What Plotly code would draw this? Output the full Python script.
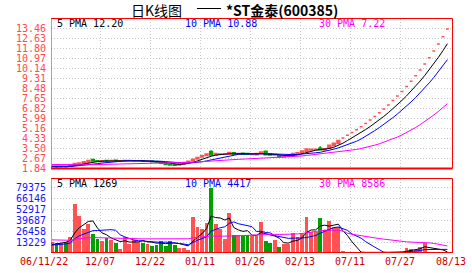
import plotly.graph_objects as go
import pandas as pd

W, H = 472, 273

# ---------------- data ----------------
date_labels = ["06/11/22", "12/07", "12/22", "01/11", "01/26", "02/13", "07/11", "07/27", "08/13"]

# closes / volumes of the 29 sessions before the window (seed the moving averages)
prior_close = [2.28, 2.30, 2.27, 2.25, 2.26, 2.29, 2.31, 2.28, 2.24, 2.22,
               2.25, 2.27, 2.24, 2.21, 2.23, 2.26, 2.24, 2.20, 2.18, 2.16,
               2.08, 2.05, 2.03, 2.04, 2.02, 2.01, 2.03, 2.02, 2.00]
prior_volume = [21000, 18500, 19500, 17800, 20500, 19200, 18000, 21500, 17500, 19000,
                18800, 20200, 17600, 19400, 18300, 20800, 18900, 17700, 19600, 18700,
                9500, 8200, 9800, 8700, 9100, 8400, 9600, 8900, 9300]

open_ = [1.98, 2.01, 1.97, 2.01, 2.05, 2.12, 2.20, 2.27, 2.36, 2.58,
         2.48, 2.42, 2.50, 2.46, 2.53, 2.47, 2.46, 2.48, 2.47, 2.46,
         2.49, 2.44, 2.46, 2.42, 2.35, 2.28, 2.19, 2.15, 2.13, 2.23,
         2.36, 2.46, 2.62, 2.80, 2.92, 3.25, 2.96, 3.02, 3.02, 3.04,
         3.14, 3.04, 3.10, 3.08, 3.00, 2.98, 3.17, 3.28, 3.05, 2.97,
         2.92, 2.80, 2.86, 2.94, 3.06, 3.14, 3.28, 3.38, 3.40, 3.52,
         3.38, 3.52, 3.72, 3.92,
         4.37, 4.59, 4.82, 5.06, 5.31, 5.58, 5.86, 6.15, 6.46, 6.78,
         7.12, 7.48, 7.85, 8.24, 8.65, 9.08, 9.53, 10.01, 10.51, 11.04,
         11.59, 12.17, 12.78, 13.42]
high = [2.03, 2.02, 2.02, 2.03, 2.14, 2.26, 2.32, 2.41, 2.52, 2.60,
        2.50, 2.50, 2.53, 2.52, 2.55, 2.50, 2.52, 2.51, 2.50, 2.49,
        2.50, 2.48, 2.47, 2.43, 2.36, 2.30, 2.22, 2.18, 2.24, 2.36,
        2.46, 2.62, 2.80, 2.98, 3.10, 3.35, 3.12, 3.10, 3.08, 3.22,
        3.18, 3.12, 3.12, 3.10, 3.08, 3.10, 3.22, 3.30, 3.08, 3.02,
        2.95, 2.88, 2.95, 3.10, 3.17, 3.32, 3.50, 3.46, 3.48, 3.68,
        3.50, 3.78, 3.95, 4.16,
        4.37, 4.59, 4.82, 5.06, 5.31, 5.58, 5.86, 6.15, 6.46, 6.78,
        7.12, 7.48, 7.85, 8.24, 8.65, 9.08, 9.53, 10.01, 10.51, 11.04,
        11.59, 12.17, 12.78, 13.42]
low = [1.90, 1.88, 1.84, 1.90, 2.03, 2.10, 2.18, 2.25, 2.34, 2.44,
       2.40, 2.40, 2.44, 2.44, 2.44, 2.45, 2.44, 2.46, 2.45, 2.44,
       2.43, 2.42, 2.38, 2.33, 2.26, 2.15, 2.10, 2.10, 2.12, 2.22,
       2.35, 2.44, 2.60, 2.78, 2.88, 2.92, 2.94, 2.98, 2.98, 3.00,
       3.02, 3.00, 3.00, 3.00, 2.98, 2.96, 3.02, 2.95, 2.92, 2.94,
       2.78, 2.78, 2.84, 2.92, 3.04, 3.12, 3.25, 3.34, 3.36, 3.36,
       3.36, 3.50, 3.70, 3.90,
       4.37, 4.59, 4.82, 5.06, 5.31, 5.58, 5.86, 6.15, 6.46, 6.78,
       7.12, 7.48, 7.85, 8.24, 8.65, 9.08, 9.53, 10.01, 10.51, 11.04,
       11.59, 12.17, 12.78, 13.42]
close = [2.01, 1.97, 2.00, 1.98, 2.13, 2.25, 2.30, 2.40, 2.50, 2.46,
         2.42, 2.48, 2.46, 2.50, 2.46, 2.49, 2.51, 2.50, 2.49, 2.48,
         2.45, 2.46, 2.41, 2.35, 2.28, 2.18, 2.13, 2.12, 2.22, 2.34,
         2.44, 2.60, 2.76, 2.90, 3.05, 2.96, 3.08, 3.05, 3.04, 3.16,
         3.05, 3.08, 3.02, 3.02, 3.04, 3.08, 3.20, 2.98, 2.96, 3.00,
         2.80, 2.86, 2.93, 3.08, 3.15, 3.30, 3.46, 3.43, 3.44, 3.40,
         3.47, 3.76, 3.94, 4.16,
         4.37, 4.59, 4.82, 5.06, 5.31, 5.58, 5.86, 6.15, 6.46, 6.78,
         7.12, 7.48, 7.85, 8.24, 8.65, 9.08, 9.53, 10.01, 10.51, 11.04,
         11.59, 12.17, 12.78, 13.42]
volume = [14500, 13300, 13300, 14500, 20600, 60000, 45000, 30300, 35600, 23500,
          17400, 15400, 18800, 16400, 13300, 5300, 20200, 11400, 16400, 14500,
          13300, 12100, 9300, 10500, 15400, 9300, 15400, 10500, 6500, 6500,
          4100, 44500, 32400, 29600, 37600, 79375, 36000, 30000, 17400, 49000,
          21900, 21900, 21000, 22000, 21000, 21000, 38800, 14600, 13000, 15800,
          7700, 11700, 11700, 25000, 19800, 23900, 44900, 25900, 26000, 43000,
          29000, 39000, 32000, 32000, 2500, 700, 800, 600, 700, 900,
          700, 600, 800, 700, 600, 700, 800, 1320, 7000, 6000,
          4000, 7500, 13325, 2200, 800, 1200, 1545, 600]

price_ticks = [1.84, 2.67, 3.50, 4.33, 5.16, 5.99, 6.82, 7.65, 8.48, 9.31,
               10.14, 10.97, 11.80, 12.63, 13.46]
volume_ticks = [13229, 26458, 39687, 52917, 66146, 79375]

title_left = "日K线图"
title_right = "*ST金泰(600385)"

# ---------------- derived ----------------
days = list(range(len(close)))
n_prior = len(prior_close)
cs = pd.Series(prior_close + close)
vs = pd.Series(prior_volume + volume)
pma = {n: cs.rolling(n).mean().iloc[n_prior:].tolist() for n in (5, 10, 30)}
vma = {n: vs.rolling(n).mean().iloc[n_prior:].tolist() for n in (5, 10, 30)}

RED = "#ff5252"
GREEN = "#00a000"
BORDER = "#ff0000"
GRID = "#c8c8c8"
MA_COL = {5: "#000000", 10: "#0000ff", 30: "#ff00ff"}
MONO = "DejaVu Sans Mono"

# pixel geometry
PX_L, PX_R = 51, 452
P_TOP, P_BOT = 18.5, 168.5
V_TOP, V_BOT = 178.5, 253.0
X0, X1 = -0.22, 88.0
price_step_px = 10.0
p_lo = price_ticks[0]
p_step = price_ticks[1] - price_ticks[0]
p_hi = p_lo + (P_BOT - P_TOP) / price_step_px * p_step
v_step_px = 10.9
v_hi = (V_BOT - V_TOP) / v_step_px * volume_ticks[0]


def px_x(px):
    return px / W


def px_y(py):
    return 1 - py / H


grid_px = [100, 150, 200, 250, 300, 350, 400]
grid_vals = [X0 + (g - PX_L) / (PX_R - PX_L) * (X1 - X0) for g in grid_px]

fig = go.Figure()

fig.add_trace(go.Candlestick(
    x=days, open=open_, high=high, low=low, close=close,
    increasing=dict(line=dict(color=RED, width=1.5), fillcolor=RED),
    decreasing=dict(line=dict(color=GREEN, width=1.5), fillcolor=GREEN),
    whiskerwidth=0, xaxis="x", yaxis="y", hoverinfo="skip", showlegend=False))

for n in (5, 10, 30):
    fig.add_trace(go.Scatter(x=days, y=pma[n], mode="lines",
                             line=dict(color=MA_COL[n], width=1),
                             xaxis="x", yaxis="y", hoverinfo="skip", showlegend=False))

bar_cols = [RED if c >= o else GREEN for o, c in zip(open_, close)]
fig.add_trace(go.Bar(x=days, y=volume, marker=dict(color=bar_cols, line=dict(width=0)),
                     width=0.85, xaxis="x2", yaxis="y2", hoverinfo="skip", showlegend=False))

for n in (5, 10, 30):
    fig.add_trace(go.Scatter(x=days, y=vma[n], mode="lines",
                             line=dict(color=MA_COL[n], width=1),
                             xaxis="x2", yaxis="y2", hoverinfo="skip", showlegend=False))

xdom = [px_x(PX_L), px_x(PX_R)]
common_x = dict(domain=xdom, range=[X0, X1], tickvals=grid_vals, showticklabels=False,
                showgrid=True, gridcolor=GRID, griddash="1px,2px", gridwidth=1,
                zeroline=False, showline=False, ticks="", fixedrange=True)

fig.update_layout(
    template="none", width=W, height=H,
    margin=dict(l=0, r=0, t=0, b=0),
    paper_bgcolor="white", plot_bgcolor="white",
    showlegend=False, boxgap=0.1, bargap=0,
    xaxis=dict(**common_x, anchor="y", rangeslider=dict(visible=False)),
    xaxis2=dict(**common_x, anchor="y2", matches="x"),
    yaxis=dict(domain=[px_y(P_BOT), px_y(P_TOP)], range=[p_lo, p_hi], tickvals=price_ticks,
               showticklabels=False, showgrid=True, gridcolor=GRID, griddash="1px,2px",
               zeroline=False, showline=False, ticks="", anchor="x"),
    yaxis2=dict(domain=[px_y(V_BOT), px_y(V_TOP)], range=[0, v_hi], tickvals=volume_ticks,
                showticklabels=False, showgrid=True, gridcolor=GRID, griddash="1px,2px",
                zeroline=False, showline=False, ticks="", anchor="x2"),
)

shapes = []


def hline(py, x0, x1, w=1, dash="solid", color=BORDER):
    shapes.append(dict(type="line", xref="paper", yref="paper", x0=px_x(x0), x1=px_x(x1),
                       y0=px_y(py), y1=px_y(py), line=dict(color=color, width=w, dash=dash)))


def vline(px, y0, y1, w=1, dash="solid"):
    shapes.append(dict(type="line", xref="paper", yref="paper", x0=px_x(px), x1=px_x(px),
                       y0=px_y(y0), y1=px_y(y1), line=dict(color=BORDER, width=w, dash=dash)))


# price panel frame
hline(18.5, PX_L, PX_R + 0.5)
vline(PX_R + 0.5, 18.5, 168.5)
hline(168.5, PX_L, PX_R + 0.5, w=2)
vline(PX_L + 0.5, 18.5, 168.5, dash="1px,1px")
# volume panel frame
hline(178.5, PX_L, PX_R + 0.5)
vline(PX_R + 0.5, 178.5, 253)
hline(252.5, PX_L, PX_R + 0.5)
vline(PX_L + 0.5, 178.5, 253, dash="1px,1px")
# dash in the title
hline(8.5, 197, 221, w=1, color="#000000")

ann = []
# title
ann.append(dict(xref="paper", yref="paper", x=px_x(156.5), y=px_y(10), xanchor="center",
                yanchor="middle", text=title_left, showarrow=False,
                font=dict(family="Noto Sans CJK SC", size=14, color="#000000")))
ann.append(dict(xref="paper", yref="paper", x=px_x(224), y=px_y(10), xanchor="left",
                yanchor="middle", text=f"<b>{title_right}</b>", showarrow=False,
                font=dict(family="Noto Sans CJK SC", size=14, color="#000000")))
# price tick labels
for v in price_ticks:
    ann.append(dict(xref="paper", yref="y", x=px_x(47.5), y=v, xanchor="right", yanchor="middle",
                    text=f"{v:.2f}", showarrow=False,
                    font=dict(family=MONO, size=10, color="#ff4a4a")))
# volume tick labels
for v in volume_ticks:
    ann.append(dict(xref="paper", yref="y2", x=px_x(47.5), y=v, xanchor="right", yanchor="middle",
                    text=f"{v}", showarrow=False,
                    font=dict(family=MONO, size=10, color="#1414ff")))
# date labels
date_px = [43.5, 100, 150, 200, 250, 300, 350, 400, 451]
for lab, p in zip(date_labels, date_px):
    ann.append(dict(xref="paper", yref="paper", x=px_x(p), y=px_y(261), xanchor="center",
                    yanchor="middle", text=lab, showarrow=False,
                    font=dict(family=MONO, size=10, color="#cc0000")))
# MA legends
leg_px = {5: 54.5, 10: 183, 30: 317}
for n in (5, 10, 30):
    ann.append(dict(xref="paper", yref="paper", x=px_x(leg_px[n]), y=px_y(23.5), xanchor="left",
                    yanchor="middle", text=f"{n} PMA {pma[n][-1]:.2f}", showarrow=False,
                    font=dict(family=MONO, size=10, color=MA_COL[n])))
    ann.append(dict(xref="paper", yref="paper", x=px_x(leg_px[n]), y=px_y(183.5), xanchor="left",
                    yanchor="middle", text=f"{n} PMA {vma[n][-1]:.0f}", showarrow=False,
                    font=dict(family=MONO, size=10, color=MA_COL[n])))

fig.update_layout(shapes=shapes, annotations=ann)
fig.write_html("out.html")
